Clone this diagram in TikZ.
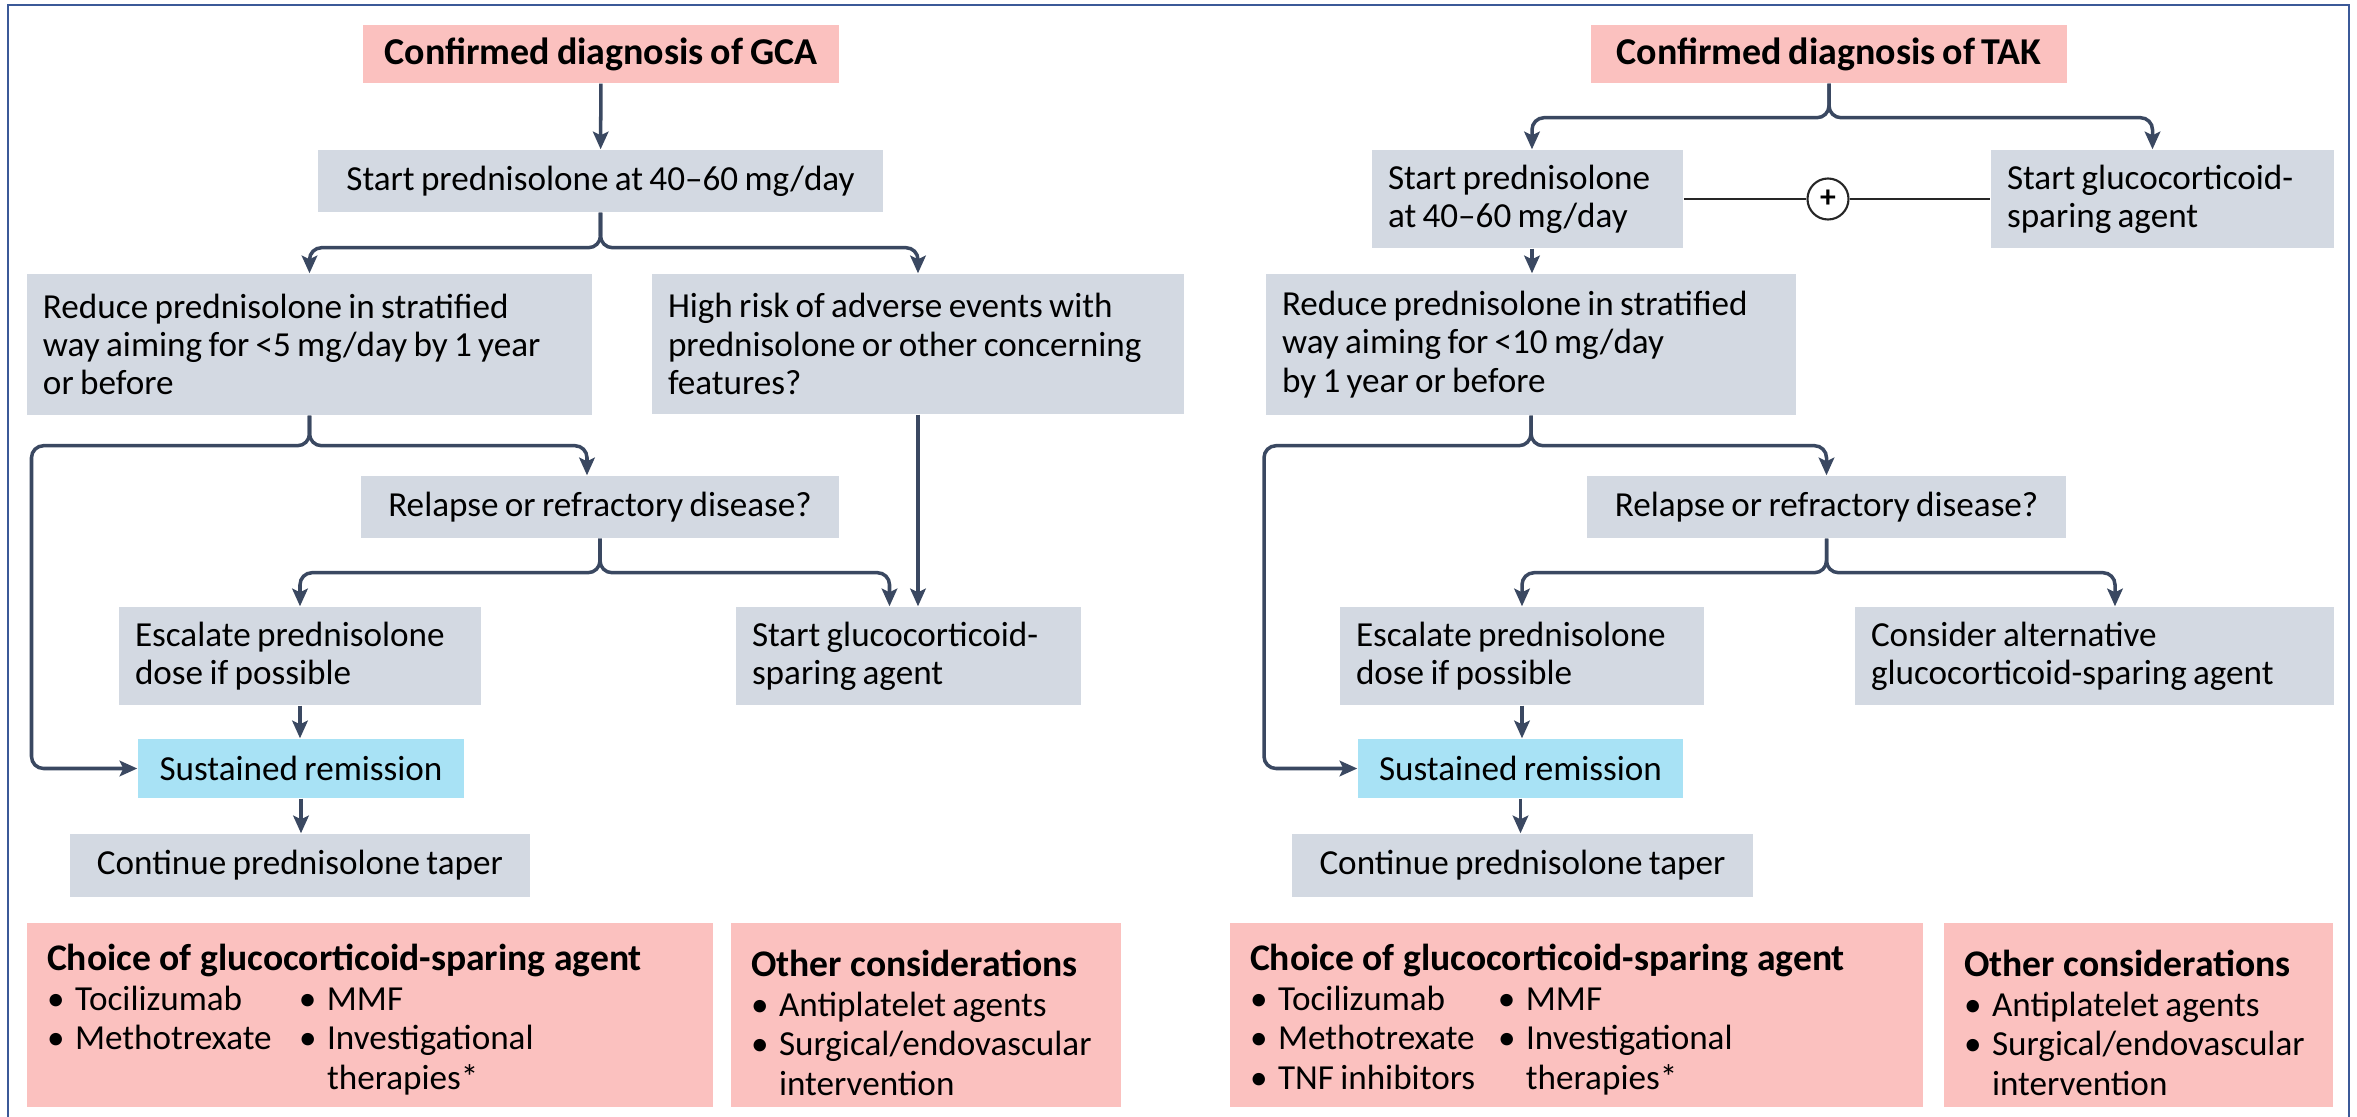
\documentclass[tikz,border=0pt]{standalone}
\usepackage{fontspec}
\setmainfont{Carlito}
\usetikzlibrary{arrows.meta}
\definecolor{boxgrey}{HTML}{D3D9E2}
\definecolor{pinkbox}{HTML}{FBC1BF}
\definecolor{remitblue}{HTML}{A8E2F5}
\definecolor{flowcol}{HTML}{3A4861}
\definecolor{framecol}{HTML}{3B5998}
\newcommand{\tightsp}{\setlength{\spaceskip}{0.18em}}
\newcommand{\boxhead}[1]{\rule{0pt}{12pt}{\fontsize{10.7}{11}\selectfont\bfseries\setlength{\spaceskip}{0pt}#1}}
\newcommand{\bul}{\textbullet\hspace{0.3em}}
\tikzset{
  every node/.style={inner xsep=0.16cm, inner ysep=0pt, font=\fontsize{10}{10.9}\selectfont,
    execute at begin node=\tightsp},
  greybox/.style={fill=boxgrey, align=left},
  onebox/.style={fill=boxgrey, align=center},
  diagbox/.style={fill=pinkbox, align=center, font=\fontsize{10.8}{11}\selectfont\bfseries},
  remitbox/.style={fill=remitblue, align=center},
  infobox/.style={fill=pinkbox, align=left, inner xsep=0.2cm, minimum height=1.84cm,
    font=\fontsize{10}{11.3}\selectfont},
  flow/.style={draw=flowcol, line width=1pt, rounded corners=0.12cm,
    -{Stealth[length=5pt,width=4.4pt,inset=1pt]}},
  thinline/.style={draw=black!85, line width=0.6pt},
}
\begin{document}
\begin{tikzpicture}
        \useasboundingbox (0,0) rectangle (23.57,-11.17);
        \draw[framecol, line width=0.6pt] (0.08,-0.05) rectangle (23.49,-11.6);

        % GCA
        \node[diagbox, minimum width=4.76cm, minimum height=0.58cm, execute at begin node={}] (gca) at (6.01,-0.54) {Confirmed diagnosis of GCA};
        \node[onebox, minimum width=5.65cm, minimum height=0.62cm] (start) at (6.005,-1.81) {Start prednisolone at 40–60 mg/day};
        \node[greybox, text width=5.33cm, minimum height=1.41cm] (reduce) at (3.095,-3.445) {Reduce prednisolone in stratified\\way aiming for <5 mg/day by 1 year\\or before};
        \node[greybox, text width=5.00cm, minimum height=1.40cm] (risk) at (9.18,-3.44) {High risk of adverse events with\\prednisolone or other concerning\\features?};
        \node[onebox, minimum width=4.78cm, minimum height=0.62cm] (relapse) at (6.00,-5.07) {Relapse or refractory disease?};
        \node[greybox, text width=3.30cm, minimum height=0.98cm] (escalate) at (3.00,-6.56) {Escalate prednisolone\\dose if possible};
        \node[greybox, text width=3.13cm, minimum height=0.98cm] (spare) at (9.085,-6.56) {Start glucocorticoid-\\sparing agent};
        \node[remitbox, minimum width=3.26cm, minimum height=0.59cm] (remission) at (3.01,-7.685) {Sustained remission};
        \node[onebox, minimum width=4.60cm, minimum height=0.63cm] (taper) at (3.00,-8.655) {Continue prednisolone taper};
        \node[infobox, text width=6.46cm] (choice) at (3.70,-10.15) {\boxhead{Choice of glucocorticoid-sparing agent}\\
          \begin{tabular}[t]{@{}p{2.52cm}@{}l@{}}
          \bul Tocilizumab & \bul MMF\\
          \bul Methotrexate & \bul Investigational\\
          & \phantom{\bul}therapies*
          \end{tabular}};
        \node[infobox, text width=3.50cm] (other) at (9.26,-10.15) {\boxhead{Other considerations}\\
          \bul Antiplatelet agents\\
          \bul Surgical/endovascular\\
          \phantom{\bul}intervention};

        % TAK
        \node[diagbox, minimum width=4.76cm, minimum height=0.58cm, execute at begin node={}] (tak) at (18.29,-0.54) {Confirmed diagnosis of TAK};
        \node[greybox, text width=2.79cm, minimum height=0.98cm] (startR) at (15.275,-1.99) {Start prednisolone\\at 40–60 mg/day};
        \node[greybox, text width=3.11cm, minimum height=0.98cm] (spareR) at (21.625,-1.99) {Start glucocorticoid-\\sparing agent};
        \node[circle, draw=black!85, line width=0.6pt, fill=white, minimum size=0.41cm, inner sep=0pt,
          font=\fontsize{9}{9}\selectfont\bfseries] (plus) at (18.28,-1.99) {+};
        \node[greybox, text width=4.98cm, minimum height=1.41cm] (reduceR) at (15.31,-3.445) {Reduce prednisolone in stratified\\way aiming for <10 mg/day\\by 1 year or before};
        \node[onebox, minimum width=4.79cm, minimum height=0.62cm] (relapseR) at (18.265,-5.07) {Relapse or refractory disease?};
        \node[greybox, text width=3.32cm, minimum height=0.98cm] (escalateR) at (15.22,-6.56) {Escalate prednisolone\\dose if possible};
        \node[greybox, text width=4.47cm, minimum height=0.98cm] (altR) at (20.945,-6.56) {Consider alternative\\glucocorticoid-sparing agent};
        \node[remitbox, minimum width=3.25cm, minimum height=0.59cm] (remissionR) at (15.205,-7.685) {Sustained remission};
        \node[onebox, minimum width=4.61cm, minimum height=0.63cm] (taperR) at (15.225,-8.655) {Continue prednisolone taper};
        \node[infobox, text width=6.53cm] (choiceR) at (15.765,-10.15) {\boxhead{Choice of glucocorticoid-sparing agent}\\
          \begin{tabular}[t]{@{}p{2.48cm}@{}l@{}}
          \bul Tocilizumab & \bul MMF\\
          \bul Methotrexate & \bul Investigational\\
          \bul TNF inhibitors & \phantom{\bul}therapies*
          \end{tabular}};
        \node[infobox, text width=3.49cm] (otherR) at (21.385,-10.15) {\boxhead{Other considerations}\\
          \bul Antiplatelet agents\\
          \bul Surgical/endovascular\\
          \phantom{\bul}intervention};

        \draw[flow] (gca) -- (start);
        \draw[flow] (start.south) -- ++(0,-0.35) -| (reduce.north);
        \draw[flow] (start.south) -- ++(0,-0.35) -| (risk.north);
        \draw[flow] (reduce.south) -- ++(0,-0.3) -- ++(-2.78,0) |- (remission.west);
        \draw[flow] (reduce.south) -- ++(0,-0.3) -| ([xshift=-0.13cm]relapse.north);
        \draw[flow] (relapse.south) -- ++(0,-0.34) -| (escalate.north);
        \draw[flow] (relapse.south) -- ++(0,-0.34) -| ([xshift=-0.19cm]spare.north);
        \draw[flow] (risk.south) -- (risk.south |- spare.north);
        \draw[flow] (escalate.south) -- (escalate.south |- remission.north);
        \draw[flow] (remission.south) -- (remission.south |- taper.north);

        \draw[flow] (tak.south) -- ++(0,-0.34) -| ([xshift=0.045cm]startR.north);
        \draw[flow] (tak.south) -- ++(0,-0.34) -| ([xshift=-0.1cm]spareR.north);
        \draw[thinline] (startR.east) -- (plus) -- (spareR.west);
        \draw[flow] ([xshift=0.045cm]startR.south) -- ([xshift=0.045cm]startR.south |- reduceR.north);
        \draw[flow] (reduceR.south) -- ++(0,-0.3) -- ++(-2.67,0) |- (remissionR.west);
        \draw[flow] (reduceR.south) -- ++(0,-0.3) -| (relapseR.north);
        \draw[flow] (relapseR.south) -- ++(0,-0.34) -| (escalateR.north);
        \draw[flow] (relapseR.south) -- ++(0,-0.34) -| ([xshift=0.205cm]altR.north);
        \draw[flow] (escalateR.south) -- (escalateR.south |- remissionR.north);
        \draw[flow] (remissionR.south) -- (remissionR.south |- taperR.north);
\end{tikzpicture}
\end{document}
